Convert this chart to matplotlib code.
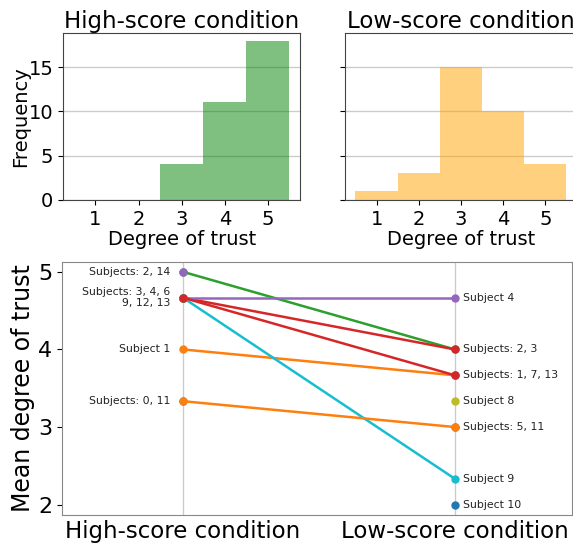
import numpy as np
import matplotlib
matplotlib.use("Agg")
import matplotlib.pyplot as plt

# individual ratings -> histogram counts per trust level
trust_levels = [1, 2, 3, 4, 5]
high_counts = [0, 0, 4, 11, 18]
low_counts = [1, 3, 15, 10, 4]

# mean degree of trust per subject (None = not in that condition)
subjects = list(range(15))
high_means = [10/3, 4, 5, 14/3, 14/3, None, 14/3, None, None, 14/3, None, 10/3, 14/3, 14/3, 5]
low_means = [None, 11/3, 4, 4, 14/3, 3, None, 11/3, 10/3, 7/3, 2, 3, None, 11/3, None]

high_labels = ["Subjects: 2, 14", "Subjects: 3, 4, 6\n9, 12, 13", "Subject 1", "Subjects: 0, 11"]
high_label_y = [5, 14/3, 4, 10/3]
low_labels = ["Subject 4", "Subjects: 2, 3", "Subjects: 1, 7, 13", "Subject 8",
              "Subjects: 5, 11", "Subject 9", "Subject 10"]
low_label_y = [14/3, 4, 11/3, 10/3, 3, 7/3, 2]
conditions = ["High-score condition", "Low-score condition"]

fig = plt.figure(figsize=(5.73, 5.43), dpi=100)
ax1 = fig.add_axes([0.110, 0.632, 0.414, 0.308])
ax2 = fig.add_axes([0.602, 0.632, 0.405, 0.308], sharey=ax1)
ax3 = fig.add_axes([0.108, 0.052, 0.890, 0.466])

bins = np.arange(0.5, 6.0, 1.0)
for ax, counts, color, title in [(ax1, high_counts, "green", conditions[0]),
                                 (ax2, low_counts, "orange", conditions[1])]:
    ax.hist(trust_levels, bins=bins, weights=counts, color=color, alpha=0.5)
    ax.set_title(title, fontsize=16.5, pad=3)
    ax.set_xlabel("Degree of trust", fontsize=14, labelpad=1)
    ax.set_xticks(trust_levels)
    ax.tick_params(labelsize=14)
    ax.grid(axis="y", color="#cccccc", linewidth=1)
    ax.set_axisbelow(True)
    for s in ax.spines.values():
        s.set_color("#444444")
ax1.set_ylabel("Frequency", fontsize=14, labelpad=-1)
ax1.set_yticks([0, 5, 10, 15])
plt.setp(ax2.get_yticklabels(), visible=False)

# paired plot of subject means
for i in subjects:
    c = "C%d" % (i % 10)
    h, l = high_means[i], low_means[i]
    if h is not None and l is not None:
        ax3.plot([0, 1], [h, l], color=c, linewidth=1.8)
    if h is not None:
        ax3.plot(0, h, "o", color=c, markersize=5)
    if l is not None:
        ax3.plot(1, l, "o", color=c, markersize=5)

for txt, y in zip(high_labels, high_label_y):
    ax3.text(-0.045, y, txt, ha="right", va="center", fontsize=7.8, color="#222222")
for txt, y in zip(low_labels, low_label_y):
    ax3.text(1.03, y, txt, ha="left", va="center", fontsize=7.8, color="#222222")

ax3.set_xlim(-0.445, 1.43)
ax3.set_ylim(1.87, 5.13)
ax3.set_xticks([0, 1])
ax3.set_xticklabels(conditions)
ax3.set_yticks([2, 3, 4, 5])
ax3.tick_params(axis="x", labelsize=16.5, length=0)
ax3.tick_params(axis="y", labelsize=16)
ax3.set_ylabel("Mean degree of trust", fontsize=17, labelpad=2)
ax3.grid(axis="x", color="#cccccc", linewidth=1)
ax3.set_axisbelow(True)
for s in ax3.spines.values():
    s.set_color("#888888")

fig.savefig("out.png", dpi=100)
